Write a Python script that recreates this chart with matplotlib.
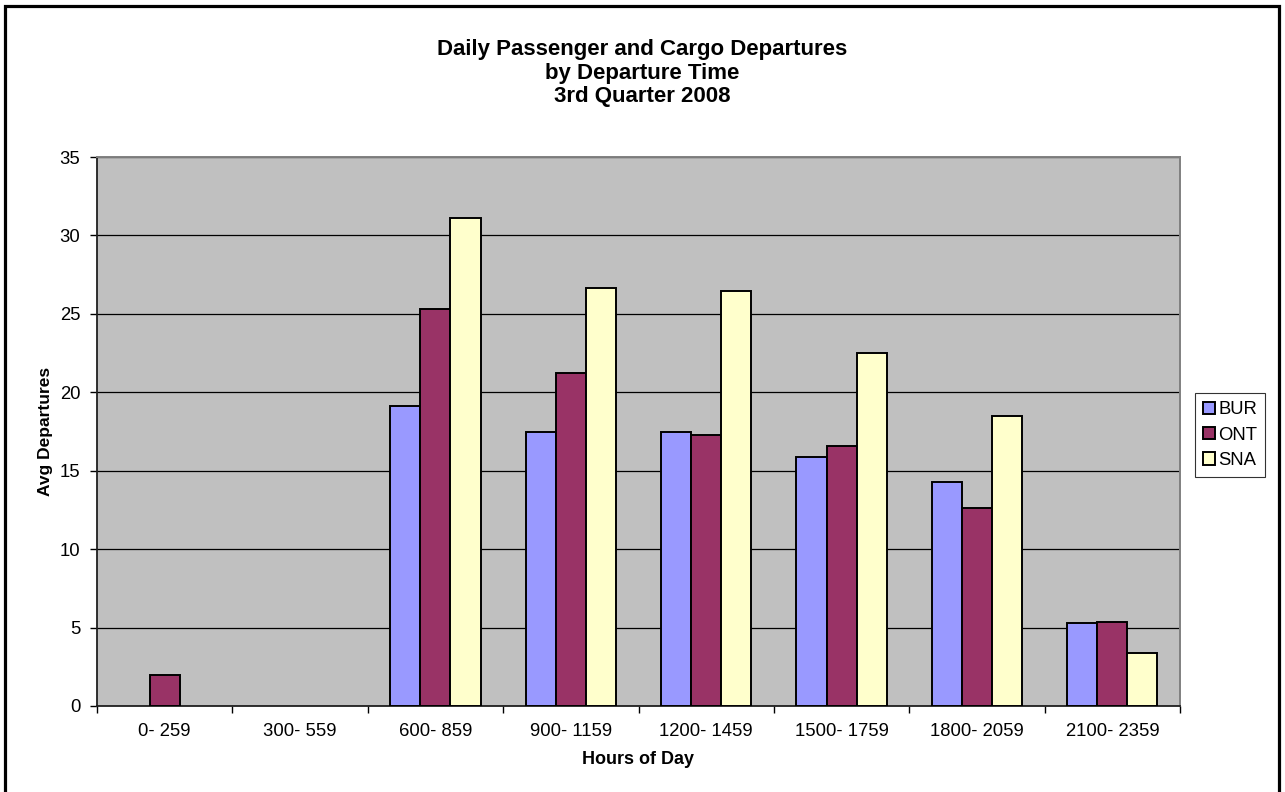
import matplotlib
matplotlib.use("Agg")
import matplotlib.pyplot as plt
import numpy as np
from matplotlib.patches import Rectangle

plt.rcParams["font.family"] = ["Liberation Sans", "DejaVu Sans"]

# data
hours = ["0- 259", "300- 559", "600- 859", "900- 1159", "1200- 1459",
         "1500- 1759", "1800- 2059", "2100- 2359"]
bur = [0, 0, 19.1, 17.5, 17.5, 15.9, 14.3, 5.3]
ont = [2.0, 0, 25.3, 21.25, 17.3, 16.6, 12.6, 5.35]
sna = [0, 0, 31.1, 26.65, 26.45, 22.5, 18.5, 3.35]
series = [("BUR", bur, "#9999FF"), ("ONT", ont, "#993366"),
          ("SNA", sna, "#FFFFCC")]

W, H = 1285, 792
fig = plt.figure(figsize=(W / 100, H / 100), dpi=100)
ax = fig.add_axes([97 / W, 1 - 706 / H, (1180 - 97) / W, (706 - 157) / H])
ax.set_facecolor("#C0C0C0")

x = np.arange(len(hours))
bw = 1 / 4.5  # Excel gap width 150%
for i, (name, vals, col) in enumerate(series):
    v = np.array(vals, dtype=float)
    mask = v > 0
    ax.bar(x[mask] + (i - 1) * bw, v[mask], width=bw, color=col,
           edgecolor="black", linewidth=1.4, label=name, zorder=3)

ax.set_xlim(-0.5, len(hours) - 0.5)
ax.set_ylim(0, 35)
ax.set_yticks(np.arange(0, 36, 5))
ax.yaxis.grid(True, color="black", linewidth=0.9, zorder=1)
ax.set_axisbelow(True)

ax.set_xticks(x)
ax.set_xticklabels(hours, fontsize=13.3)
ax.set_xticks(np.arange(-0.5, len(hours)), minor=True)
ax.tick_params(axis="x", which="major", length=0, pad=12)
ax.tick_params(axis="x", which="minor", length=5, width=1, direction="out")
ax.tick_params(axis="y", length=5, width=1, labelsize=13.3, pad=7)

for s in ("top", "right"):
    ax.spines[s].set_color("#808080")
    ax.spines[s].set_linewidth(1.4)
for s in ("left", "bottom"):
    ax.spines[s].set_color("#202020")
    ax.spines[s].set_linewidth(1.3)

ax.set_xlabel("Hours of Day", fontsize=13, fontweight="bold", labelpad=8)
ax.set_ylabel("Avg Departures", fontsize=12.5, fontweight="bold", labelpad=5)

fig.text(0.5, 1 - 73 / H, "Daily Passenger and Cargo Departures\n"
         "by Departure Time\n3rd Quarter 2008", ha="center", va="center",
         fontsize=16, fontweight="bold", linespacing=1.18)

leg = fig.legend(loc="upper left", bbox_to_anchor=(1195 / W, 1 - 393 / H),
                 fontsize=13.3, frameon=True, fancybox=False,
                 edgecolor="black", handlelength=0.65, handleheight=0.65,
                 handletextpad=0.15, borderpad=0.45, labelspacing=0.45,
                 borderaxespad=0)
leg.get_frame().set_linewidth(0.8)

# outer frame: top, left, right visible, bottom runs off the picture
fig.patches.append(Rectangle((5 / W, -0.01), (1278.5 - 5) / W,
                             1 - 6 / H + 0.01, transform=fig.transFigure,
                             fill=False, edgecolor="black", linewidth=2.3))

fig.savefig("out.png", dpi=100)
